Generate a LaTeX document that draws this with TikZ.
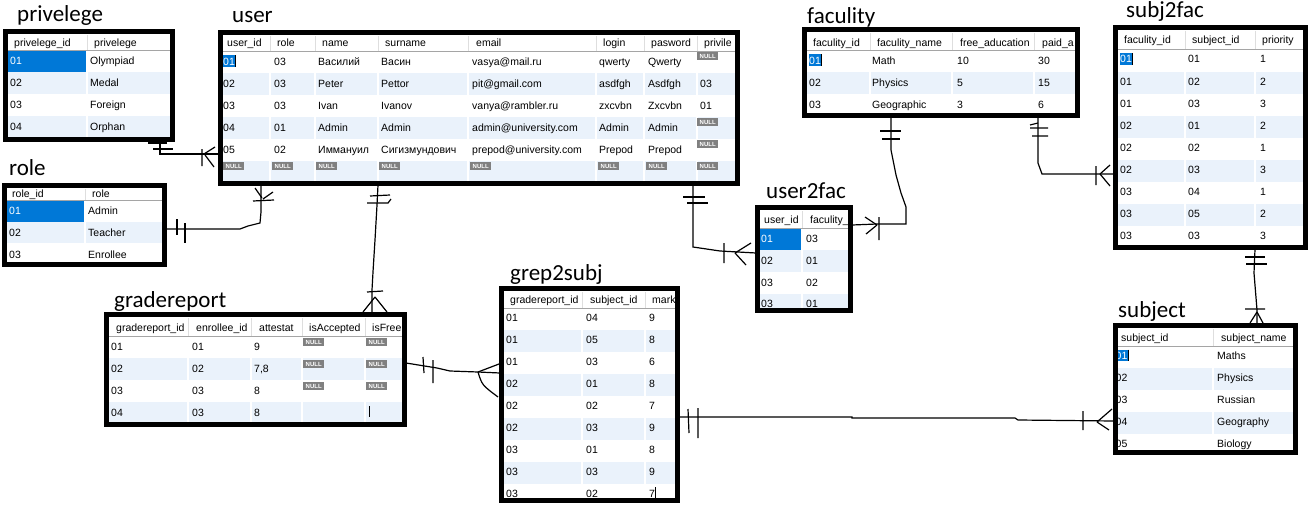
\documentclass[tikz,border=0pt]{standalone}
\usepackage{fontspec}
\newfontfamily\cellfamily{Liberation Sans}
\newfontfamily\titlefamily{Carlito}
\newcommand\cellfnt{\cellfamily\fontsize{10.5pt}{12pt}\selectfont}
\newcommand\nullfnt{\cellfamily\bfseries\fontsize{6pt}{6pt}\selectfont}
\newcommand\ttlfnt{\titlefamily\fontsize{23pt}{26pt}\selectfont}
\definecolor{rowlt}{RGB}{234,242,251}
\definecolor{selblue}{RGB}{0,120,215}
\definecolor{nullg}{RGB}{128,128,128}
\definecolor{hdrline}{RGB}{165,165,165}
\definecolor{hdrdiv}{RGB}{222,222,222}
\tikzset{
  cell/.style={font=\cellfnt, anchor=base west, inner sep=0pt, text=black},
  selcell/.style={cell, text=white},
  nullb/.style={fill=nullg, text=white, font=\nullfnt, inner sep=0pt, minimum width=21pt, minimum height=8pt, anchor=north west},
  ttl/.style={font=\ttlfnt, anchor=base west, inner sep=0pt},
  tblframe/.style={draw=black, line width=5pt, inner sep=0pt, outer sep=0pt, anchor=north west},
  conn/.style={draw=black, line width=1.2pt},
  hline/.style={draw=hdrline, line width=1pt},
  hdiv/.style={draw=hdrdiv, line width=1pt},
  rdiv/.style={draw=white, line width=2pt},
}
\newcommand\Tx[3]{\node[cell] at (#1,#2) {#3};}
\newcommand\Nl[2]{\node[nullb] at (#1,#2) {NULL};}
\newcommand\Lr[4]{\fill[rowlt] (#1,#3) rectangle (#2,#4);}
\newcommand\Sel[3]{\fill[selblue] ({#1-0.5},{#2-9.5}) rectangle ({#1+12},{#2+1.5});
  \node[selcell] at (#1,#2) {#3};
  \draw[black, line width=0.8pt] ({#1+12.5},{#2-9.5}) -- ({#1+12.5},{#2+1.5});}
\begin{document}
\begin{tikzpicture}[x=1pt,y=-1pt]
\useasboundingbox[fill=white] (0,0) rectangle (1313,511);

% ================= privelege
\node[ttl] (tpriv) at (17,22) {privelege};
\begin{scope}
\clip (8,34) rectangle (170,137);
\fill[white] (8,34) rectangle (170,137);
\Lr{8}{170}{72}{94}
\Lr{8}{170}{116}{137}
\fill[selblue] (8,50) rectangle (87,72);
\draw[hline] (8,50.5) -- (170,50.5);
\draw[hdiv] (87,35) -- (87,50);
\draw[rdiv] (87,51) -- (87,137);
\Tx{14}{46}{privelege\_id} \Tx{94}{46}{privelege}
\node[selcell] at (10,64) {01}; \Tx{90}{64}{Olympiad}
\Tx{10}{86}{02} \Tx{90}{86}{Medal}
\Tx{10}{108}{03} \Tx{90}{108}{Foreign}
\Tx{10}{130}{04} \Tx{90}{130}{Orphan}
\end{scope}
\node[tblframe, minimum width=167pt, minimum height=108pt] (priv) at (5.5,31.5) {};

% ================= role
\node[ttl] (trole) at (9,175) {role};
\begin{scope}
\clip (7,188) rectangle (162,262);
\fill[white] (7,188) rectangle (162,262);
\Lr{7}{162}{222}{243}
\fill[selblue] (7,201) rectangle (85,222);
\draw[hline] (7,200.5) -- (162,200.5);
\draw[hdiv] (85,189) -- (85,200);
\draw[rdiv] (85,201) -- (85,262);
\Tx{12}{197}{role\_id} \Tx{92}{197}{role}
\node[selcell] at (9,214) {01}; \Tx{88}{214}{Admin}
\Tx{9}{236}{02} \Tx{88}{236}{Teacher}
\Tx{9}{258}{03} \Tx{88}{258}{Enrollee}
\end{scope}
\node[tblframe, minimum width=160pt, minimum height=79pt] (role) at (4.5,185.5) {};

% ================= user
\node[ttl] (tuser) at (232,23) {user};
\begin{scope}
\clip (223,35) rectangle (735,181);
\fill[white] (223,35) rectangle (735,181);
\Lr{223}{735}{73}{95}
\Lr{223}{735}{117}{139}
\Lr{223}{735}{161}{181}
\draw[hline] (223,51.5) -- (735,51.5);
\foreach \c in {270,315,378,468,596,644,697} {
  \draw[hdiv] (\c,36) -- (\c,51);
  \draw[rdiv] (\c,52) -- (\c,181);
}
\Tx{227}{46}{user\_id} \Tx{277}{46}{role} \Tx{322}{46}{name} \Tx{385}{46}{surname}
\Tx{476}{46}{email} \Tx{603}{46}{login} \Tx{651}{46}{pasword} \Tx{704}{46}{privile}
\Sel{223}{65}{01} \Tx{274}{65}{03} \Tx{318}{65}{Василий} \Tx{381}{65}{Васин}
\Tx{472}{65}{vasya@mail.ru} \Tx{599}{65}{qwerty} \Tx{648}{65}{Qwerty} \Nl{697}{52}
\Tx{223}{87}{02} \Tx{274}{87}{03} \Tx{318}{87}{Peter} \Tx{381}{87}{Pettor}
\Tx{472}{87}{pit@gmail.com} \Tx{599}{87}{asdfgh} \Tx{648}{87}{Asdfgh} \Tx{700}{87}{03}
\Tx{223}{109}{03} \Tx{274}{109}{03} \Tx{318}{109}{Ivan} \Tx{381}{109}{Ivanov}
\Tx{472}{109}{vanya@rambler.ru} \Tx{599}{109}{zxcvbn} \Tx{648}{109}{Zxcvbn} \Tx{700}{109}{01}
\Tx{223}{131}{04} \Tx{274}{131}{01} \Tx{318}{131}{Admin} \Tx{381}{131}{Admin}
\Tx{472}{131}{admin@university.com} \Tx{599}{131}{Admin} \Tx{648}{131}{Admin} \Nl{697}{118}
\Tx{223}{153}{05} \Tx{274}{153}{02} \Tx{318}{153}{Иммануил} \Tx{381}{153}{Сигизмундович}
\Tx{472}{153}{prepod@university.com} \Tx{599}{153}{Prepod} \Tx{648}{153}{Prepod} \Nl{697}{140}
\foreach \c in {223,272,316,379,470,598,646,697} { \Nl{\c}{162} }
\end{scope}
\node[tblframe, minimum width=517pt, minimum height=151pt] (user) at (220.5,32.5) {};

% ================= faculity
\node[ttl] (tfac) at (807,24) {faculity};
\begin{scope}
\clip (807,32) rectangle (1075,113);
\fill[white] (807,32) rectangle (1075,113);
\Lr{807}{1075}{72}{94}
\draw[hline] (807,50.5) -- (1075,50.5);
\foreach \c in {870,952,1034} {
  \draw[hdiv] (\c,33) -- (\c,50);
  \draw[rdiv] (\c,51) -- (\c,113);
}
\Tx{813}{46}{faculity\_id} \Tx{877}{46}{faculity\_name} \Tx{960}{46}{free\_aducation} \Tx{1042}{46}{paid\_a}
\Sel{809}{64}{01} \Tx{872}{64}{Math} \Tx{957}{64}{10} \Tx{1038}{64}{30}
\Tx{809}{86}{02} \Tx{872}{86}{Physics} \Tx{957}{86}{5} \Tx{1038}{86}{15}
\Tx{809}{108}{03} \Tx{872}{108}{Geographic} \Tx{957}{108}{3} \Tx{1038}{108}{6}
\end{scope}
\node[tblframe, minimum width=273pt, minimum height=86pt] (fac) at (804.5,29.5) {};

% ================= subj2fac
\node[ttl] (ts2f) at (1126,18) {subj2fac};
\begin{scope}
\clip (1118,30) rectangle (1303,245);
\fill[white] (1118,30) rectangle (1303,245);
\Lr{1118}{1303}{72}{94}
\Lr{1118}{1303}{116}{138}
\Lr{1118}{1303}{160}{182}
\Lr{1118}{1303}{204}{226}
\draw[hline] (1118,49.5) -- (1303,49.5);
\foreach \c in {1185,1255} {
  \draw[hdiv] (\c,31) -- (\c,49);
  \draw[rdiv] (\c,50) -- (\c,245);
}
\Tx{1124}{44}{faculity\_id} \Tx{1192}{44}{subject\_id} \Tx{1262}{44}{priority}
\Sel{1120}{63}{01} \Tx{1188}{63}{01} \Tx{1260}{63}{1}
\Tx{1120}{85}{01} \Tx{1188}{85}{02} \Tx{1260}{85}{2}
\Tx{1120}{107}{01} \Tx{1188}{107}{03} \Tx{1260}{107}{3}
\Tx{1120}{129}{02} \Tx{1188}{129}{01} \Tx{1260}{129}{2}
\Tx{1120}{151}{02} \Tx{1188}{151}{02} \Tx{1260}{151}{1}
\Tx{1120}{173}{02} \Tx{1188}{173}{03} \Tx{1260}{173}{3}
\Tx{1120}{195}{03} \Tx{1188}{195}{04} \Tx{1260}{195}{1}
\Tx{1120}{217}{03} \Tx{1188}{217}{05} \Tx{1260}{217}{2}
\Tx{1120}{239}{03} \Tx{1188}{239}{03} \Tx{1260}{239}{3}
\end{scope}
\node[tblframe, minimum width=190pt, minimum height=220pt] (s2f) at (1115.5,27.5) {};

% ================= user2fac
\node[ttl] (tu2f) at (766,198) {user2fac};
\begin{scope}
\clip (760,210) rectangle (848,308);
\fill[white] (760,210) rectangle (848,308);
\Lr{760}{848}{250}{272}
\Lr{760}{848}{294}{316}
\fill[selblue] (760,228) rectangle (802,250);
\draw[hline] (760,228.5) -- (848,228.5);
\draw[hdiv] (802,211) -- (802,228);
\draw[rdiv] (802,229) -- (802,308);
\Tx{764}{223}{user\_id} \Tx{810}{223}{faculity\_}
\node[selcell] at (761,242) {01}; \Tx{806}{242}{03}
\Tx{761}{264}{02} \Tx{806}{264}{01}
\Tx{761}{286}{03} \Tx{806}{286}{02}
\Tx{761}{307}{03} \Tx{806}{307}{01}
\end{scope}
\node[tblframe, minimum width=93pt, minimum height=103pt] (u2f) at (757.5,207.5) {};

% ================= gradereport
\node[ttl] (tgr) at (114,307) {gradereport};
\begin{scope}
\clip (109,317) rectangle (402,422);
\fill[white] (109,317) rectangle (402,422);
\Lr{109}{402}{358}{380}
\Lr{109}{402}{402}{422}
\draw[hline] (109,336.5) -- (402,336.5);
\foreach \c in {188,251,302,365} {
  \draw[hdiv] (\c,318) -- (\c,336);
  \draw[rdiv] (\c,337) -- (\c,422);
}
\Tx{116}{331}{gradereport\_id} \Tx{196}{331}{enrollee\_id} \Tx{259}{331}{attestat}
\Tx{309}{331}{isAccepted} \Tx{372}{331}{isFree}
\Tx{111}{350}{01} \Tx{192}{350}{01} \Tx{254}{350}{9} \Nl{303}{338} \Nl{366}{338}
\Tx{111}{372}{02} \Tx{192}{372}{02} \Tx{254}{372}{7,8} \Nl{303}{360} \Nl{366}{360}
\Tx{111}{394}{03} \Tx{192}{394}{03} \Tx{254}{394}{8} \Nl{303}{382} \Nl{366}{382}
\Tx{111}{416}{04} \Tx{192}{416}{03} \Tx{254}{416}{8}
\draw[black, line width=0.9pt] (369,406) -- (369,417);
\end{scope}
\node[tblframe, minimum width=298pt, minimum height=110pt] (gr) at (106.5,314.5) {};

% ================= grep2subj
\node[ttl] (tg2s) at (510,280) {grep2subj};
\begin{scope}
\clip (504,291) rectangle (675,498);
\fill[white] (504,291) rectangle (675,498);
\Lr{504}{675}{330}{352}
\Lr{504}{675}{374}{396}
\Lr{504}{675}{418}{440}
\Lr{504}{675}{462}{484}
\draw[hline] (504,308.5) -- (675,308.5);
\foreach \c in {582,645} {
  \draw[hdiv] (\c,292) -- (\c,308);
  \draw[rdiv] (\c,309) -- (\c,498);
}
\Tx{510}{303}{gradereport\_id} \Tx{590}{303}{subject\_id} \Tx{652}{303}{mark}
\Tx{506}{321.5}{01} \Tx{586}{321.5}{04} \Tx{649}{321.5}{9}
\Tx{506}{343.5}{01} \Tx{586}{343.5}{05} \Tx{649}{343.5}{8}
\Tx{506}{365.5}{01} \Tx{586}{365.5}{03} \Tx{649}{365.5}{6}
\Tx{506}{387.5}{02} \Tx{586}{387.5}{01} \Tx{649}{387.5}{8}
\Tx{506}{409.5}{02} \Tx{586}{409.5}{02} \Tx{649}{409.5}{7}
\Tx{506}{431.5}{02} \Tx{586}{431.5}{03} \Tx{649}{431.5}{9}
\Tx{506}{453.5}{03} \Tx{586}{453.5}{01} \Tx{649}{453.5}{8}
\Tx{506}{475.5}{03} \Tx{586}{475.5}{03} \Tx{649}{475.5}{9}
\Tx{506}{497.5}{03} \Tx{586}{497.5}{02} \Tx{649}{497.5}{7}
\draw[black, line width=0.9pt] (655.5,487) -- (655.5,498);
\end{scope}
\node[tblframe, minimum width=176pt, minimum height=212pt] (g2s) at (501.5,288.5) {};

% ================= subject
\node[ttl] (tsubj) at (1118,317) {subject};
\begin{scope}
\clip (1118,328) rectangle (1293,450);
\fill[white] (1118,328) rectangle (1293,450);
\Lr{1118}{1293}{368}{390}
\Lr{1118}{1293}{412}{434}
\draw[hline] (1118,346.5) -- (1293,346.5);
\draw[hdiv] (1213,329) -- (1213,346);
\draw[rdiv] (1213,347) -- (1213,450);
\Tx{1121}{341}{subject\_id} \Tx{1221}{341}{subject\_name}
\Sel{1115.5}{359}{01} \Tx{1217}{359}{Maths}
\Tx{1115.5}{381}{02} \Tx{1217}{381}{Physics}
\Tx{1115.5}{403}{03} \Tx{1217}{403}{Russian}
\Tx{1115.5}{425}{04} \Tx{1217}{425}{Geography}
\Tx{1115.5}{447}{05} \Tx{1217}{447}{Biology}
\end{scope}
\node[tblframe, minimum width=180pt, minimum height=127pt] (subj) at (1115.5,325.5) {};

% ================= connectors
% privelege -> user
\coordinate (p1) at (160,141);
\coordinate (u1) at (219,154);
\draw[conn] (p1) -- (160,154) -- (u1);
\draw[conn] (148,143) -- (167,143) (153,149) -- (173,149);
\draw[conn] (202,149) -- (202,166) (204,154) -- (215,147) (205,155) -- (214,167);

% role -> user
\coordinate (r2) at (166,229);
\coordinate (u2) at (261,185);
\draw[conn] (r2) -- (240,229) -- (248,226) -- (260,223) -- (261,212) -- (u2);
\draw[conn] (177,219) -- (177,235) (185,223) -- (185,243);
\draw[conn] (253,201) -- (274,200) (255,188) -- (262,198) (273,192) -- (263,199);

% user -> gradereport
\coordinate (u3) at (378,185);
\coordinate (g3) at (372,313);
\draw[conn] (u3) -- (377,205) -- (375,240) -- (373,272) -- (372,290) -- (g3);
\draw[conn] (370,196) -- (390,195) (367,203) -- (388,203) -- (391,199);
\draw[conn] (367,292) -- (383,291) (375,297) -- (363,312) (375,297) -- (387,312);

% user -> user2fac
\coordinate (u4) at (693,185);
\coordinate (f4) at (756,253);
\draw[conn] (u4) -- (693,247) -- (720,251) -- (f4);
\draw[conn] (683,197) -- (705,197) (687,203) -- (708,203);
\draw[conn] (724,243) -- (724,263) (735,253) -- (751,243) (735,253) -- (746,265);

% faculity -> user2fac
\coordinate (fa5) at (891,117);
\coordinate (uf5) at (852,225);
\draw[conn] (fa5) -- (891,150) -- (896,175) -- (901,193) -- (906,207) -- (906,224) -- (877,224) -- (uf5);
\draw[conn] (880,131) -- (901,131) (882,139) -- (900,139);
\draw[conn] (879,217) -- (879,240) (877,225) -- (865,217) (877,225) -- (866,234);

% faculity -> subj2fac
\coordinate (fa6) at (1038,117);
\coordinate (s6) at (1114,174);
\draw[conn] (fa6) -- (1038,163) -- (1042,174) -- (s6);
\draw[conn] (1030,125) -- (1038,123) (1030,128) -- (1048,128) (1032,136) -- (1048,136);
\draw[conn] (1096,166) -- (1096,185) (1100,174) -- (1110,165) (1100,174) -- (1110,186);

% subj2fac -> subject
\coordinate (s7) at (1255,249);
\coordinate (sb7) at (1257,324);
\draw[conn] (s7) -- (1254,273) -- (1257,310) -- (sb7);
\draw[conn] (1245,257) -- (1265,257) (1246,264) -- (1267,264);
\draw[conn] (1245,309) -- (1265,309) (1257,312) -- (1250,323) (1257,312) -- (1263,323);

% gradereport -> grep2subj
\coordinate (g8) at (406,363);
\coordinate (gs8) at (500,373);
\draw[conn] (g8) -- (437,368) -- (450,371) -- (478,372) -- (gs8);
\draw[conn] (423,357) -- (424,373) (433,360) -- (433,383);
\draw[conn] (478,372) -- (499,364) (478,372) .. controls (482,385) .. (498,397);

% grep2subj -> subject
\coordinate (gs9) at (679,417);
\coordinate (sb9) at (1114,421);
\draw[conn] (gs9) -- (852,417) -- (852,418) -- (1015,418) -- (1018,420) -- (sb9);
\draw[conn] (688,409) -- (689,433) (698,408) -- (698,438);
\draw[conn] (1083,411) -- (1083,430) (1097,422) -- (1112,409) (1097,422) -- (1109,430);
\end{tikzpicture}
\end{document}
